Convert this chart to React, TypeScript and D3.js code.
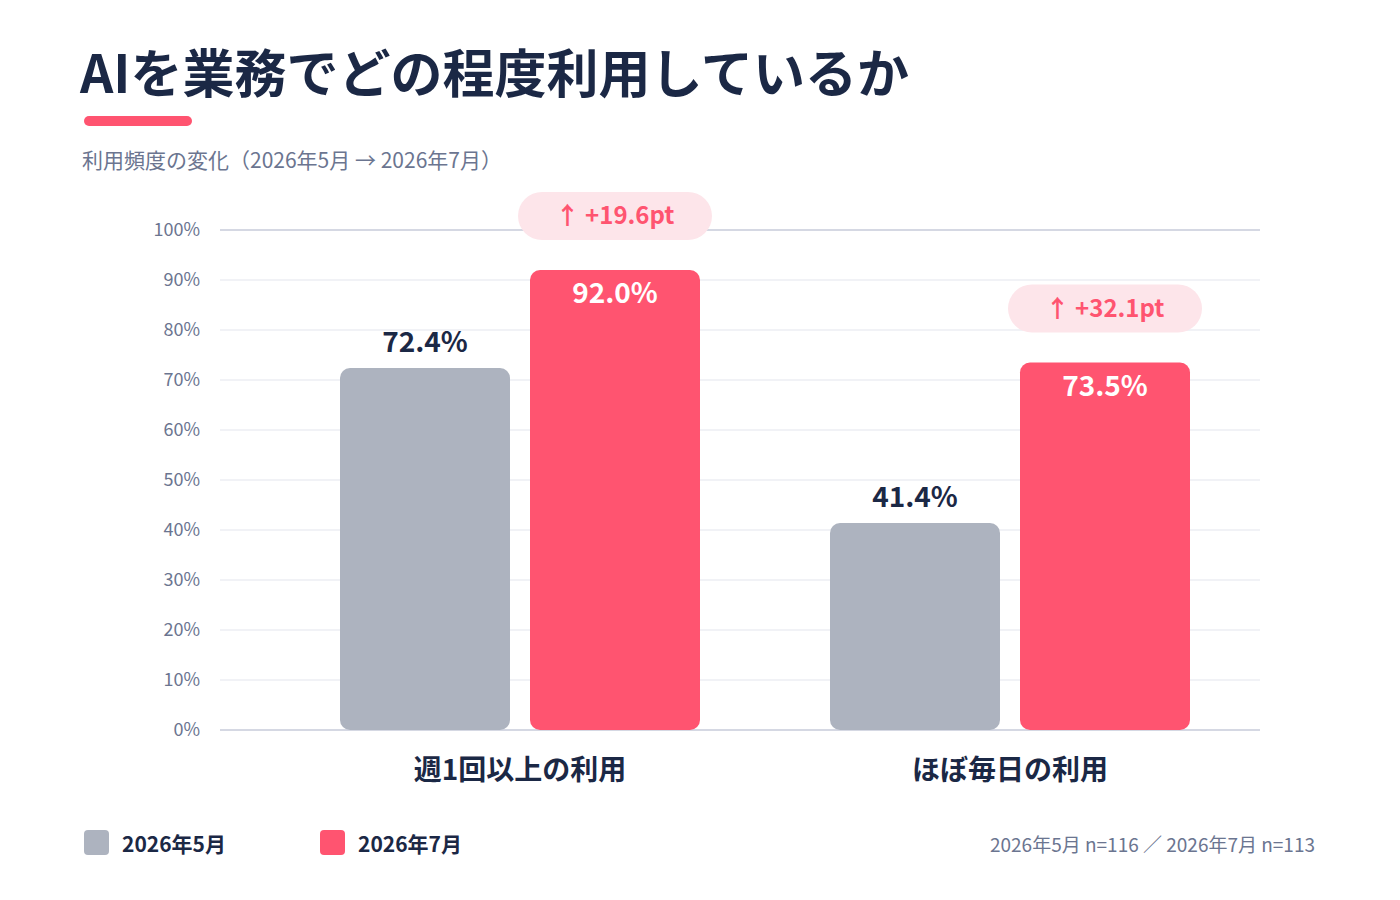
import { useEffect, useRef } from "react";
import * as d3 from "d3";

const categories = ["週1回以上の利用", "ほぼ毎日の利用"];
const seriesNames = ["2026年5月", "2026年7月"];
const mayValues = [72.4, 41.4];
const julyValues = [92.0, 73.5];
const yTicks = [0, 10, 20, 30, 40, 50, 60, 70, 80, 90, 100];
const sampleNote = "2026年5月 n=116 ／ 2026年7月 n=113";

const WIDTH = 1400;
const HEIGHT = 900;
const PLOT = { left: 220, right: 1260, top: 230, bottom: 730 };
const FONT = "'Noto Sans CJK JP', 'Noto Sans', sans-serif";
const NAVY = "#1b2845";
const GRAY_TEXT = "#6b7590";
const BAR_GRAY = "#adb3bf";
const BAR_RED = "#ff5470";
const BADGE_BG = "#fde5ea";

const App = () => {
  const svgRef = useRef<SVGSVGElement | null>(null);

  useEffect(() => {
    document.body.style.margin = "0";
    if (!svgRef.current) return;
    const svg = d3.select(svgRef.current);
    svg.selectAll("*").remove();

    const y = d3.scaleLinear().domain([0, 100]).range([PLOT.bottom, PLOT.top]);
    const x0 = d3.scaleBand().domain(categories).range([275, 1255]);
    const x1 = d3
      .scaleBand()
      .domain(seriesNames)
      .range([0, 360])
      .paddingInner(20 / 190);

    // Title
    svg
      .append("text")
      .attr("x", 80)
      .attr("y", 93)
      .attr("font-family", FONT)
      .attr("font-weight", 700)
      .attr("font-size", 52)
      .attr("fill", NAVY)
      .text("AIを業務でどの程度利用しているか");

    svg
      .append("rect")
      .attr("x", 84)
      .attr("y", 116)
      .attr("width", 108)
      .attr("height", 10)
      .attr("rx", 5)
      .attr("fill", BAR_RED);

    svg
      .append("text")
      .attr("x", 82)
      .attr("y", 168)
      .attr("font-family", FONT)
      .attr("font-size", 21)
      .attr("fill", GRAY_TEXT)
      .text("利用頻度の変化（2026年5月 → 2026年7月）");

    // Grid
    svg
      .append("g")
      .selectAll("line")
      .data(yTicks)
      .join("line")
      .attr("x1", PLOT.left)
      .attr("x2", PLOT.right)
      .attr("y1", (d) => y(d))
      .attr("y2", (d) => y(d))
      .attr("stroke", (d) => (d === 0 || d === 100 ? "#d5d8e3" : "#f1f2f6"))
      .attr("stroke-width", 2);

    svg
      .append("g")
      .selectAll("text")
      .data(yTicks)
      .join("text")
      .attr("x", 200)
      .attr("y", (d) => y(d) + 6)
      .attr("text-anchor", "end")
      .attr("font-family", FONT)
      .attr("font-size", 18)
      .attr("fill", GRAY_TEXT)
      .text((d) => `${d}%`);

    // Bars
    const groups = svg
      .append("g")
      .selectAll("g")
      .data(categories)
      .join("g")
      .attr("transform", (c) => `translate(${x0(c)! + x0.bandwidth() / 2 - 180},0)`);

    groups.each(function (c, i) {
      const g = d3.select(this);
      const vals = [
        { s: seriesNames[0], v: mayValues[i] },
        { s: seriesNames[1], v: julyValues[i] },
      ];

      g.selectAll("rect.bar")
        .data(vals)
        .join("rect")
        .attr("class", "bar")
        .attr("x", (d) => x1(d.s)!)
        .attr("y", (d) => y(d.v))
        .attr("width", x1.bandwidth())
        .attr("height", (d) => y(0) - y(d.v))
        .attr("rx", 10)
        .attr("fill", (d, j) => (j === 0 ? BAR_GRAY : BAR_RED));

      // may label above
      g.append("text")
        .attr("x", x1(seriesNames[0])! + x1.bandwidth() / 2)
        .attr("y", y(mayValues[i]) - 16)
        .attr("text-anchor", "middle")
        .attr("font-family", FONT)
        .attr("font-weight", 700)
        .attr("font-size", 28)
        .attr("fill", NAVY)
        .text(`${mayValues[i].toFixed(1)}%`);

      // july label inside
      g.append("text")
        .attr("x", x1(seriesNames[1])! + x1.bandwidth() / 2)
        .attr("y", y(julyValues[i]) + 33)
        .attr("text-anchor", "middle")
        .attr("font-family", FONT)
        .attr("font-weight", 700)
        .attr("font-size", 28)
        .attr("fill", "#ffffff")
        .text(`${julyValues[i].toFixed(1)}%`);

      // diff badge
      const diff = julyValues[i] - mayValues[i];
      const bx = x1(seriesNames[1])! + x1.bandwidth() / 2;
      const by = y(julyValues[i]) - 54;
      g.append("rect")
        .attr("x", bx - 97)
        .attr("y", by - 24)
        .attr("width", 194)
        .attr("height", 48)
        .attr("rx", 24)
        .attr("fill", BADGE_BG);
      g.append("text")
        .attr("x", bx)
        .attr("y", by + 8)
        .attr("text-anchor", "middle")
        .attr("font-family", FONT)
        .attr("font-weight", 700)
        .attr("font-size", 24)
        .attr("fill", BAR_RED)
        .text(`↑ +${diff.toFixed(1)}pt`);

      // category label
      g.append("text")
        .attr("x", 180)
        .attr("y", 780)
        .attr("text-anchor", "middle")
        .attr("font-family", FONT)
        .attr("font-weight", 700)
        .attr("font-size", 28)
        .attr("fill", NAVY)
        .text(c);
    });

    // Legend
    const legendX = [84, 320];
    seriesNames.forEach((s, i) => {
      svg
        .append("rect")
        .attr("x", legendX[i])
        .attr("y", 830)
        .attr("width", 25)
        .attr("height", 25)
        .attr("rx", 4)
        .attr("fill", i === 0 ? BAR_GRAY : BAR_RED);
      svg
        .append("text")
        .attr("x", legendX[i] + 38)
        .attr("y", 852)
        .attr("font-family", FONT)
        .attr("font-weight", 700)
        .attr("font-size", 21)
        .attr("fill", NAVY)
        .text(s);
    });

    svg
      .append("text")
      .attr("x", 1315)
      .attr("y", 852)
      .attr("text-anchor", "end")
      .attr("font-family", FONT)
      .attr("font-size", 19)
      .attr("fill", GRAY_TEXT)
      .text(sampleNote);
  }, []);

  return (
    <svg
      ref={svgRef}
      width={WIDTH}
      height={HEIGHT}
      style={{ display: "block", background: "#ffffff" }}
    />
  );
};

export default App;
